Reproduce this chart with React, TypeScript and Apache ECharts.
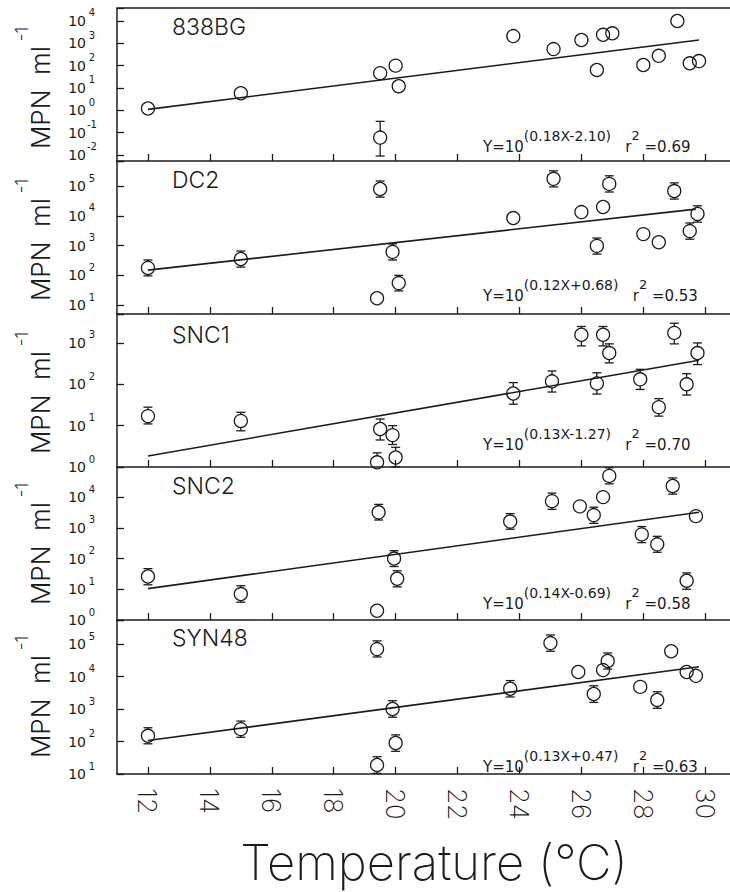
import React, { useEffect, useRef } from 'react';
import * as echarts from 'echarts';

const FONT = "'DejaVu Sans', 'Liberation Sans', Arial, sans-serif";
const THIN = "Inter, 'DejaVu Sans', sans-serif";
const INK = '#1b1b1b';

// ---------- data ----------
const panelNames = ['838BG', 'DC2', 'SNC1', 'SNC2', 'SYN48'];
const equations = ['(0.18X-2.10)', '(0.12X+0.68)', '(0.13X-1.27)', '(0.14X-0.69)', '(0.13X+0.47)'];
const rSquared = ['0.69', '0.53', '0.70', '0.58', '0.63'];
const xTicks = [12, 14, 16, 18, 20, 22, 24, 26, 28, 30];
const yMinExp = [-2.27, 0.7, 0, 0, 1];
const yMaxExp = [4.58, 5.85, 3.7, 4.98, 5.74];

const pts838BG = [[12, 1.2], [15, 5.8], [19.5, 46], [20, 100], [20.1, 12], [19.5, 0.06], [23.8, 2100], [25.1, 550], [26, 1400], [26.5, 64], [26.7, 2400], [27, 2800], [28, 107], [28.5, 275], [29.1, 10000], [29.5, 127], [29.8, 160]];
const ptsDC2 = [[12, 178], [15, 355], [19.5, 81000], [19.9, 620], [20.1, 55], [19.4, 17], [23.8, 8500], [25.1, 178000], [26, 13500], [26.7, 20000], [26.5, 980], [26.9, 120000], [28, 2450], [28.5, 1300], [29, 69000], [29.5, 3100], [29.75, 11700]];
const ptsSNC1 = [[12, 17], [15, 13], [19.5, 8.3], [19.9, 5.9], [20, 1.7], [19.4, 1.3], [23.8, 60], [25.05, 118], [26.5, 105], [26.9, 570], [26, 1580], [26.7, 1580], [27.9, 132], [28.5, 28], [29.4, 100], [29.75, 570], [29, 1750]];
const ptsSNC2 = [[12, 26], [15, 7], [19.4, 2], [19.95, 100], [20.05, 22], [19.45, 3200], [23.7, 1600], [25.05, 7400], [25.95, 5000], [26.4, 2600], [26.7, 10000], [26.9, 49000], [27.95, 610], [28.45, 290], [28.95, 23000], [29.4, 19], [29.7, 2400]];
const ptsSYN48 = [[12, 150], [15, 240], [19.4, 70000], [19.9, 1000], [20, 90], [19.4, 19], [23.7, 4200], [25, 107000], [25.9, 13800], [26.4, 2900], [26.7, 15800], [26.85, 30000], [27.9, 4800], [28.45, 1900], [28.9, 60000], [29.4, 13800], [29.7, 10500]];

// [x, y, low, high]
const err838BG = [[19.5, 0.06, 0.009, 0.32]];
const errDC2 = [[12, 178, 96, 330], [15, 355, 190, 660], [19.5, 81000, 43000, 150000], [19.9, 620, 330, 1150], [20.1, 55, 30, 100], [25.1, 178000, 95000, 330000], [26.5, 980, 520, 1800], [26.9, 120000, 64000, 225000], [29, 69000, 37000, 130000], [29.5, 3100, 1650, 5800], [29.75, 11700, 6200, 22000]];
const errSNC1 = [[12, 17, 11, 28], [15, 13, 7.5, 21], [19.5, 8.3, 4.5, 14.5], [19.9, 5.9, 3.5, 10], [20, 1.7, 1, 3], [19.4, 1.3, 1, 2.2], [23.8, 60, 33, 110], [25.05, 118, 65, 210], [26.5, 105, 58, 190], [26.9, 570, 330, 950], [26, 1580, 850, 2500], [26.7, 1580, 850, 2500], [27.9, 132, 75, 230], [28.5, 28, 17, 45], [29.4, 100, 55, 180], [29.75, 570, 300, 1000], [29, 1750, 950, 3000]];
const errSNC2 = [[12, 26, 14, 47], [15, 7, 3.8, 13], [19.95, 100, 55, 180], [20.05, 22, 12, 40], [19.45, 3200, 1800, 5800], [23.7, 1600, 900, 2900], [25.05, 7400, 4000, 13500], [26.4, 2600, 1400, 4700], [26.9, 49000, 27000, 90000], [28.95, 23000, 12500, 42000], [27.95, 610, 330, 1100], [28.45, 290, 160, 530], [29.4, 19, 10, 34]];
const errSYN48 = [[12, 150, 85, 265], [15, 240, 135, 425], [19.4, 70000, 40000, 125000], [19.9, 1000, 560, 1800], [20, 90, 50, 160], [19.4, 19, 10.5, 34], [23.7, 4200, 2350, 7500], [25, 107000, 60000, 190000], [26.4, 2900, 1600, 5200], [26.85, 30000, 17000, 53000], [28.45, 1900, 1050, 3400]];

const fit838BG = [[12, 1.1], [29.8, 1400]];
const fitDC2 = [[12, 150], [29.7, 17000]];
const fitSNC1 = [[12, 1.85], [29.8, 380]];
const fitSNC2 = [[12, 10.5], [29.8, 3200]];
const fitSYN48 = [[12, 107], [29.8, 20000]];

const allPts = [pts838BG, ptsDC2, ptsSNC1, ptsSNC2, ptsSYN48];
const allErr = [err838BG, errDC2, errSNC1, errSNC2, errSYN48];
const allFit = [fit838BG, fitDC2, fitSNC1, fitSNC2, fitSYN48];

// ---------- layout ----------
const GRID_LEFT = 117;
const panelTops = [8, 161, 314, 467, 620];
const panelHeights = [153, 153, 153, 153, 154];
const titleY = [27, 180, 335, 486, 638];
const eqBaseY = [145, 294, 443, 602, 765];
const nameCenterY = [88, 240, 393, 544, 697];

function renderErr(params: any, api: any) {
  const x = api.value(0), y = api.value(1), lo = api.value(2), hi = api.value(3);
  const c = api.coord([x, y]);
  const pl = api.coord([x, lo]);
  const ph = api.coord([x, hi]);
  const r = 6.5, w = 4.5;
  const st = { stroke: INK, lineWidth: 1.3, fill: 'none' };
  const ch: any[] = [];
  if (ph[1] < c[1] - r) {
    ch.push({ type: 'line', shape: { x1: c[0], y1: c[1] - r, x2: c[0], y2: ph[1] }, style: st });
    ch.push({ type: 'line', shape: { x1: c[0] - w, y1: ph[1], x2: c[0] + w, y2: ph[1] }, style: st });
  }
  if (pl[1] > c[1] + r) {
    ch.push({ type: 'line', shape: { x1: c[0], y1: c[1] + r, x2: c[0], y2: pl[1] }, style: st });
    ch.push({ type: 'line', shape: { x1: c[0] - w, y1: pl[1], x2: c[0] + w, y2: pl[1] }, style: st });
  }
  return { type: 'group', children: ch };
}

function buildOption() {
  const grid: any[] = [];
  const xAxis: any[] = [];
  const yAxis: any[] = [];
  const series: any[] = [];
  const graphic: any[] = [];

  for (let i = 0; i < 5; i++) {
    grid.push({ left: GRID_LEFT, right: 0, top: panelTops[i], height: panelHeights[i] });
    xAxis.push({
      type: 'value', gridIndex: i, min: 11, max: 30.8,
      axisLine: { show: true, onZero: false, lineStyle: { color: INK, width: 1.5 } },
      axisTick: { show: true, inside: true, length: 7, customValues: xTicks, lineStyle: { color: INK, width: 1.3 } },
      axisLabel: {
        show: i === 4, customValues: xTicks, rotate: -90, margin: 14,
        fontSize: 26, fontFamily: THIN, fontWeight: 200, color: INK,
      },
      splitLine: { show: false },
    });
    yAxis.push({
      type: 'log', logBase: 10, gridIndex: i,
      min: Math.pow(10, yMinExp[i]), max: Math.pow(10, yMaxExp[i]),
      axisLine: { show: true, lineStyle: { color: INK, width: 1.5 } },
      axisTick: { show: true, inside: true, length: 7, lineStyle: { color: INK, width: 1.3 } },
      splitLine: { show: false },
      axisLabel: {
        margin: 19,
        formatter: (v: number) => {
          const e = Math.log10(v);
          const r = Math.round(e);
          if (Math.abs(e - r) > 1e-3) return '';
          return `{b|10}{e|${r}}`;
        },
        rich: {
          b: { fontSize: 14, fontFamily: FONT, color: INK, lineHeight: 26, verticalAlign: 'middle' },
          e: { fontSize: 10, fontFamily: FONT, color: INK, verticalAlign: 'top', width: 12, align: 'left' },
        },
      },
    });
    series.push({
      type: 'line', xAxisIndex: i, yAxisIndex: i, data: allFit[i],
      showSymbol: false, symbol: 'none', z: 2,
      lineStyle: { color: INK, width: 1.6 },
    });
    series.push({
      type: 'custom', xAxisIndex: i, yAxisIndex: i, data: allErr[i],
      renderItem: renderErr, encode: { x: 0, y: 1 }, z: 3, clip: false,
    });
    series.push({
      type: 'scatter', xAxisIndex: i, yAxisIndex: i, data: allPts[i],
      symbol: 'circle', symbolSize: 13, z: 4,
      itemStyle: { color: 'rgba(255,255,255,0)', borderColor: INK, borderWidth: 1.3, opacity: 1 },
    });

    graphic.push({
      type: 'text', x: 172, y: titleY[i],
      style: { text: panelNames[i], fontSize: 23, fontFamily: THIN, fontWeight: 300, fill: INK, align: 'left', verticalAlign: 'middle' },
    });
    graphic.push({
      type: 'text', x: 483, y: eqBaseY[i] + 9,
      style: {
        text: `{b|Y=10}{s|${equations[i]}}{b|   r}{q|2}{b| =${rSquared[i]}}`,
        align: 'left', verticalAlign: 'bottom', fill: INK,
        rich: {
          b: { fontSize: 15, fontFamily: FONT, fill: INK, lineHeight: 25, verticalAlign: 'bottom' },
          s: { fontSize: 14, fontFamily: FONT, fill: INK, verticalAlign: 'top' },
          q: { fontSize: 13, fontFamily: FONT, fill: INK, verticalAlign: 'top' },
        },
      },
    });
    graphic.push({
      type: 'text', x: 33, y: nameCenterY[i], rotation: Math.PI / 2,
      style: {
        text: '{b|MPN  ml}{s|-1}',
        align: 'center', verticalAlign: 'middle', fill: INK,
        rich: {
          b: { fontSize: 26, fontFamily: THIN, fontWeight: 300, fill: INK, lineHeight: 40, verticalAlign: 'bottom' },
          s: { fontSize: 17, fontFamily: THIN, fontWeight: 300, fill: INK, verticalAlign: 'top', padding: [0, 0, 0, 5] },
        },
      },
    });
  }

  graphic.push({
    type: 'line', shape: { x1: GRID_LEFT, y1: 8, x2: 730, y2: 8 },
    style: { stroke: INK, lineWidth: 1.5 },
  });
  graphic.push({
    type: 'text', x: 434, y: 862,
    style: { text: 'Temperature (°C)', fontSize: 49, fontFamily: THIN, fontWeight: 200, fill: INK, align: 'center', verticalAlign: 'middle' },
  });

  return {
    animation: false,
    backgroundColor: '#ffffff',
    textStyle: { fontFamily: FONT },
    grid, xAxis, yAxis, series, graphic,
  };
}

export default function App() {
  const ref = useRef<HTMLDivElement>(null);
  useEffect(() => {
    if (!ref.current) return;
    const chart = echarts.init(ref.current, null, { renderer: 'svg' });
    chart.setOption(buildOption() as any);
    return () => chart.dispose();
  }, []);
  return (
    <div
      ref={ref}
      style={{ position: 'fixed', left: 0, top: 0, width: 730, height: 892, background: '#fff' }}
    />
  );
}
